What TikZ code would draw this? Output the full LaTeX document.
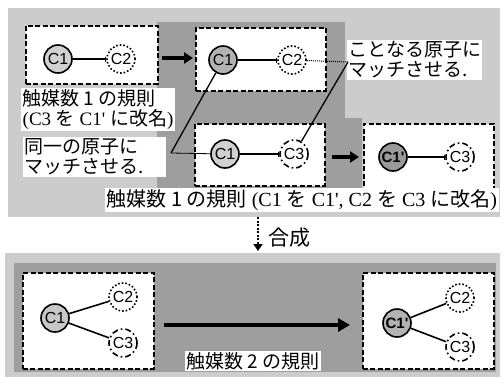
\documentclass[tikz,border=0pt]{standalone}
\usepackage{fontspec}
\setmainfont{Liberation Serif}
\newfontfamily\jp{Noto Sans CJK JP}
\newfontfamily\cf{Liberation Sans}
\usetikzlibrary{arrows.meta}
\definecolor{lightg}{gray}{0.80}
\definecolor{darkg}{gray}{0.62}
\newcommand{\J}[1]{{\jp #1}}
\begin{document}
\begin{tikzpicture}[x=1pt,y=-1pt,
  dbox/.style={draw, fill=white, line width=1.6pt, dash pattern=on 5pt off 2.5pt, anchor=north west, inner sep=0pt},
  atom/.style={circle, draw, line width=1.6pt, minimum size=28pt, inner sep=0pt, font=\cf\fontsize{16}{16}\selectfont},
  solidatom/.style={atom, fill=#1},
  primeatom/.style={atom, fill=#1, font=\cf\bfseries\fontsize{15}{15}\selectfont},
  dotatom/.style={atom, fill=white, dash pattern=on 1.6pt off 2pt},
  dashatom/.style={atom, fill=white, dash pattern=on 6pt off 3pt on 1.6pt off 3pt},
  bond/.style={line width=1.3pt, -{Bar[width=5pt,line width=1.3pt]}},
  bond2/.style={line width=1.6pt},
  fat/.style={line width=3.5pt, -{Triangle[length=9pt,width=11pt]}},
  bigfat/.style={line width=4pt, -{Triangle[length=12pt,width=13pt]}},
  lbl/.style={fill=white, inner sep=1.5pt, align=left, anchor=north west, font=\fontsize{19}{20}\selectfont},
  thinline/.style={line width=0.8pt},
  diag/.style={line width=1.3pt},
  dotline/.style={line width=1pt, dash pattern=on 1pt off 1pt},
  synarrow/.style={line width=2.5pt, dash pattern=on 2pt off 1.5pt, -{Triangle[length=7pt,width=9pt]}}
]
\useasboundingbox (0,0) rectangle (504,386);
% background panels
\fill[lightg] (8,8) rectangle (500,217);
\fill[darkg] (157,22) rectangle (345,188);
\fill[darkg] (325,118) rectangle (362,188);
\fill[lightg] (5,253) rectangle (500,377);
\fill[darkg] (14,263) rectangle (496,372);
% boxes
\node[dbox, minimum width=132pt, minimum height=58pt] (bA) at (25,25) {};
\node[dbox, minimum width=130pt, minimum height=63pt] (bB) at (195,27) {};
\node[dbox, minimum width=130pt, minimum height=62pt] (bC) at (194,123) {};
\node[dbox, minimum width=130pt, minimum height=65pt] (bD) at (363,123) {};
\node[dbox, minimum width=131pt, minimum height=96pt] (bE) at (22,272) {};
\node[dbox, minimum width=131pt, minimum height=96pt] (bF) at (362,272) {};
% labels
\node[lbl] (lA) at (21,88) {\J{触媒数 1 の規則}\\(C3 \J{を} C1\textquotesingle{} \J{に改名})};
\node[lbl, text width=140pt] (lSame) at (23,137) {\J{同一の原子に}\\\J{マッチさせる.}};
\node[lbl, text width=132pt] (lDiff) at (347,40) {\J{ことなる原子に}\\\J{マッチさせる.}};
\node[lbl, anchor=west, font=\fontsize{20}{20}\selectfont] (lBot) at (105,200) {\J{触媒数 1 の規則} (C1 \J{を} C1\textquotesingle, C2 \J{を} C3 \J{に改名})};
\node[lbl, anchor=center] (l2) at (253,361) {\J{触媒数 2 の規則}};
\node[anchor=west, font=\jp\fontsize{21}{21}\selectfont] (syn) at (265,238) {合成};
% atoms
\node[solidatom=black!18] (a1) at (58,59) {C1};
\node[dotatom] (a2) at (121,59) {C2};
\node[solidatom=black!30] (b1) at (223,60) {C1};
\node[dotatom] (b2) at (292,60) {C2};
\node[solidatom=black!18] (c1) at (225,154) {C1};
\node[dashatom] (c3) at (294,154) {C3};
\node[primeatom=black!40] (d1) at (393,157) {C1\textquotesingle};
\node[dashatom] (d3) at (460,157) {C3};
\node[solidatom=black!22] (e1) at (55,318) {C1};
\node[dotatom] (e2) at (123,297) {C2};
\node[dashatom] (e3) at (123,343) {C3};
\node[primeatom=black!30] (f1) at (397,323) {C1\textquotesingle};
\node[dotatom] (f2) at (460,298) {C2};
\node[dashatom] (f3) at (460,347) {C3};
% bonds
\draw[bond] (a1) -- (a2);
\draw[bond] (b1) -- (b2);
\draw[bond] (c1) -- (c3);
\draw[bond] (d1) -- (d3);
\draw[bond2] (e1) -- (e2);
\draw[bond2] (e1) -- (e3);
\draw[bond2] (f1) -- (f2);
\draw[bond2] (f1) -- (f3);
% connectors
\coordinate (j1) at (171,153);
\coordinate (j2) at (348,62);
\draw[thinline] (j1) -- (c1);
\draw[diag] (j1) -- (b1);
\draw[dotline] (b2) -- (j2);
\draw[diag] (j2) -- (c3);
% arrows
\coordinate (yAB) at (175,58);
\coordinate (yCD) at (345,157);
\coordinate (yEF) at (250,325);
\draw[fat, shorten <=3pt, shorten >=2pt] (bA.east |- yAB) -- (bB.west |- yAB);
\draw[fat, shorten <=6pt, shorten >=4pt] (bC.east |- yCD) -- (bD.west |- yCD);
\draw[bigfat, shorten <=9pt, shorten >=12pt] (bE.east |- yEF) -- (bF.west |- yEF);
\coordinate (s0) at (258,217);
\coordinate (s1) at (258,251);
\draw[synarrow] (s0) -- (s1);
\end{tikzpicture}
\end{document}
